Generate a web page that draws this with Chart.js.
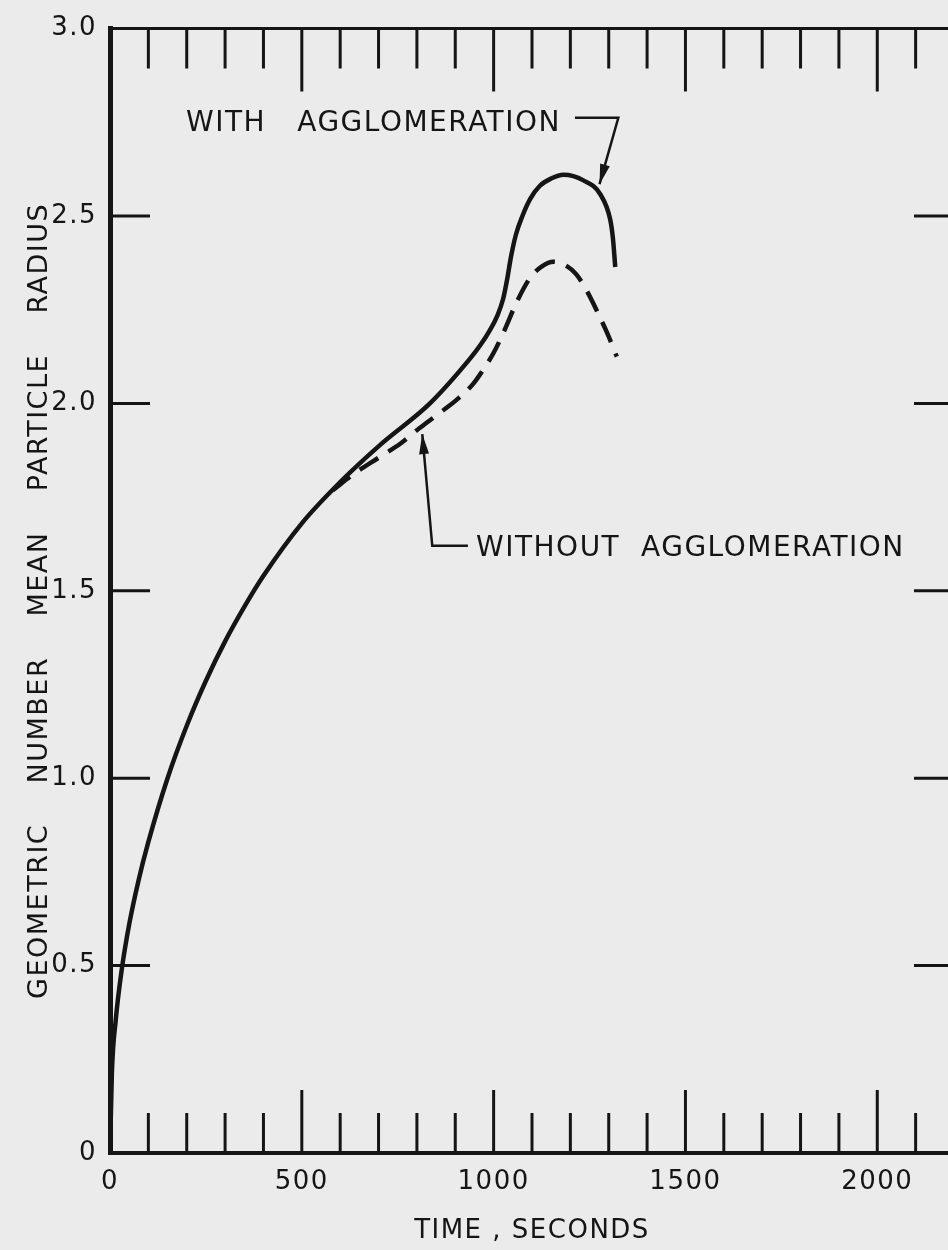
<!DOCTYPE html>
<html>
<head>
<meta charset="utf-8">
<script src="https://cdn.jsdelivr.net/npm/chart.js@4.4.1/dist/chart.umd.min.js"></script>
<style>
  html, body { margin: 0; padding: 0; background: #ebebeb; overflow: hidden; }
  canvas { display: block; }
</style>
</head>
<body>
<canvas id="chart" width="980" height="1250"></canvas>
<script>
// values (time in seconds, radius)
const timeWith = [0, 5, 15, 30, 50, 75, 100, 150, 200, 250, 300, 350, 400, 500, 600, 705, 834, 939, 965, 990, 1010, 1025, 1035, 1045, 1058, 1075, 1095, 1120, 1150, 1182, 1234, 1278, 1304, 1311, 1317];
const radiusWith = [0, 0.216, 0.355, 0.485, 0.61, 0.73, 0.83, 1.0, 1.14, 1.26, 1.365, 1.457, 1.54, 1.68, 1.79, 1.89, 2.0, 2.12, 2.155, 2.195, 2.235, 2.28, 2.33, 2.39, 2.45, 2.5, 2.545, 2.58, 2.6, 2.61, 2.595, 2.558, 2.49, 2.44, 2.364];
const timeWithout = [580, 640, 700, 760, 808, 860, 904, 945, 973, 1000, 1026, 1060, 1095, 1125, 1156, 1185, 1215, 1243, 1270, 1295, 1321];
const radiusWithout = [1.768, 1.815, 1.855, 1.895, 1.935, 1.975, 2.01, 2.05, 2.09, 2.135, 2.19, 2.27, 2.335, 2.365, 2.378, 2.37, 2.345, 2.3, 2.245, 2.19, 2.125];

const seriesNames = ['WITH   AGGLOMERATION', 'WITHOUT  AGGLOMERATION'];
const xTickValues = [0, 500, 1000, 1500, 2000];
const xTickLabels = ['0', '500', '1000', '1500', '2000'];
const yTickLabels = ['0', '0.5', '1.0', '1.5', '2.0', '2.5', '3.0'];
const xTitle = 'TIME , SECONDS';
const yTitle = 'GEOMETRIC    NUMBER    MEAN    PARTICLE    RADIUS  ';

const ink = '#151515';
const font = 'DejaVu Sans';

function pts(xs, ys) {
  return xs.map((x, i) => ({ x: x, y: ys[i] }));
}

function arrowHead(ctx, x0, y0, x1, y1) {
  const a = Math.atan2(y1 - y0, x1 - x0);
  const len = 20, w = 5;
  ctx.beginPath();
  ctx.moveTo(x1, y1);
  ctx.lineTo(x1 - len * Math.cos(a) + w * Math.sin(a), y1 - len * Math.sin(a) - w * Math.cos(a));
  ctx.lineTo(x1 - len * Math.cos(a) - w * Math.sin(a), y1 - len * Math.sin(a) + w * Math.cos(a));
  ctx.closePath();
  ctx.fill();
}

// inward tick marks, frame and the two labels with leaders
const paperAxes = {
  id: 'paperAxes',
  beforeDraw(chart) {
    chart.ctx.letterSpacing = '1.5px';
  },
  afterDraw(chart) {
    const { ctx, chartArea: a, scales: { x, y } } = chart;
    ctx.save();
    ctx.strokeStyle = ink;
    ctx.fillStyle = ink;
    ctx.lineWidth = 3;
    ctx.beginPath();
    ctx.moveTo(a.left, a.top);
    ctx.lineTo(a.right, a.top);
    ctx.lineTo(a.right, a.bottom);
    ctx.stroke();

    x.ticks.forEach(t => {
      if (t.value <= x.min || t.value >= x.max) return;
      const px = x.getPixelForValue(t.value);
      const len = t.value % 500 === 0 ? 63 : 40;
      ctx.beginPath();
      ctx.moveTo(px, a.bottom);
      ctx.lineTo(px, a.bottom - len);
      ctx.moveTo(px, a.top);
      ctx.lineTo(px, a.top + len);
      ctx.stroke();
    });
    y.ticks.forEach(t => {
      if (t.value <= y.min || t.value >= y.max) return;
      const py = y.getPixelForValue(t.value);
      ctx.beginPath();
      ctx.moveTo(a.left, py);
      ctx.lineTo(a.left + 40, py);
      ctx.moveTo(a.right, py);
      ctx.lineTo(a.right - 40, py);
      ctx.stroke();
    });

    ctx.font = '28px "' + font + '"';
    ctx.letterSpacing = '1.5px';
    ctx.textBaseline = 'middle';
    ctx.textAlign = 'left';
    ctx.fillText(seriesNames[0], x.getPixelForValue(198), y.getPixelForValue(2.745));
    ctx.fillText(seriesNames[1], x.getPixelForValue(954), y.getPixelForValue(1.612));

    ctx.lineWidth = 2.5;
    // leader to the solid curve
    let p = [[1212, 2.762], [1325, 2.762], [1276, 2.585]].map(q => [x.getPixelForValue(q[0]), y.getPixelForValue(q[1])]);
    ctx.beginPath();
    ctx.moveTo(p[0][0], p[0][1]);
    ctx.lineTo(p[1][0], p[1][1]);
    ctx.lineTo(p[2][0], p[2][1]);
    ctx.stroke();
    arrowHead(ctx, p[1][0], p[1][1], p[2][0], p[2][1]);
    // leader to the dashed curve
    p = [[933, 1.62], [840, 1.62], [814, 1.918]].map(q => [x.getPixelForValue(q[0]), y.getPixelForValue(q[1])]);
    ctx.beginPath();
    ctx.moveTo(p[0][0], p[0][1]);
    ctx.lineTo(p[1][0], p[1][1]);
    ctx.lineTo(p[2][0], p[2][1]);
    ctx.stroke();
    arrowHead(ctx, p[1][0], p[1][1], p[2][0], p[2][1]);
    ctx.restore();
  }
};

new Chart(document.getElementById('chart'), {
  type: 'line',
  data: {
    datasets: [
      {
        label: seriesNames[0],
        data: pts(timeWith, radiusWith),
        borderColor: ink,
        borderWidth: 4.5,
        pointRadius: 0,
        cubicInterpolationMode: 'monotone'
      },
      {
        label: seriesNames[1],
        data: pts(timeWithout, radiusWithout),
        borderColor: ink,
        borderWidth: 4.5,
        borderDash: [22, 12],
        pointRadius: 0,
        cubicInterpolationMode: 'monotone'
      }
    ]
  },
  options: {
    responsive: false,
    animation: false,
    devicePixelRatio: 1,
    layout: { padding: { top: 20, right: 26, left: 0, bottom: 0 } },
    plugins: { legend: { display: false }, tooltip: { enabled: false } },
    scales: {
      x: {
        type: 'linear',
        min: 0,
        max: 2200,
        afterFit(s) { s.height = 97; },
        border: { display: true, color: ink, width: 4 },
        grid: { drawOnChartArea: false, drawTicks: false },
        ticks: {
          stepSize: 100,
          autoSkip: false,
          maxRotation: 0,
          padding: 14,
          color: ink,
          font: { family: font, size: 26 },
          callback(v) {
            const i = xTickValues.indexOf(v);
            return i >= 0 ? xTickLabels[i] : '';
          }
        },
        title: {
          display: true,
          text: xTitle,
          color: ink,
          font: { family: font, size: 26 },
          padding: { top: 0, bottom: 3 }
        }
      },
      y: {
        min: 0,
        max: 3,
        afterFit(s) { s.width = 110; },
        border: { display: true, color: ink, width: 5 },
        grid: { drawOnChartArea: false, drawTicks: false },
        ticks: {
          stepSize: 0.5,
          padding: 13,
          color: ink,
          font: { family: font, size: 26 },
          callback(v, i) { return yTickLabels[i]; }
        },
        title: {
          display: true,
          text: yTitle,
          color: ink,
          font: { family: font, size: 27 },
          padding: { top: 24, bottom: 0 }
        }
      }
    }
  },
  plugins: [paperAxes]
});
</script>
</body>
</html>
